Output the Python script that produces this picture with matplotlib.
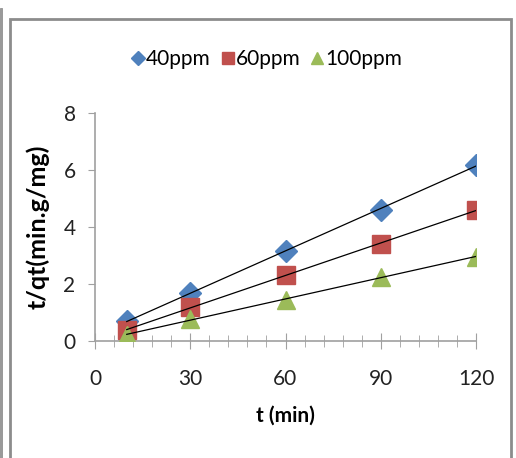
import numpy as np
import matplotlib.pyplot as plt
from matplotlib.patches import Rectangle
from matplotlib.ticker import MultipleLocator

plt.rcParams['font.family'] = ['Lato', 'DejaVu Sans']

# contact time (min) and t/qt for each initial concentration
t_min = [10, 30, 60, 90, 120]
tq_40 = [0.70, 1.68, 3.15, 4.60, 6.18]
tq_60 = [0.38, 1.20, 2.30, 3.40, 4.60]
tq_100 = [0.20, 0.78, 1.45, 2.25, 2.95]

series = [
    ('40ppm', tq_40, 'D', '#4F81BD', 11),
    ('60ppm', tq_60, 's', '#C0504D', 13),
    ('100ppm', tq_100, '^', '#9BBB59', 13),
]

fig = plt.figure(figsize=(5.16, 4.58), dpi=100)

# chart area borders
fig.patches.append(Rectangle((10 / 516, -0.05), 501 / 516, 1.05 - 19 / 458,
                             transform=fig.transFigure, fill=False,
                             edgecolor='#8c8c8c', linewidth=2))
fig.patches.append(Rectangle((1 / 516, -0.05), 0.0, 1.05 - 8 / 458,
                             transform=fig.transFigure, fill=False,
                             edgecolor='#9a9a9a', linewidth=2))

ax = fig.add_axes([95 / 516, 1 - 341 / 458, 381 / 516, 228 / 458])

x = np.array(t_min, dtype=float)
handles = []
for name, vals, mk, col, ms in series:
    h, = ax.plot(x, vals, linestyle='none', marker=mk, markersize=ms,
                 color=col, markeredgecolor=col, label=name, zorder=3)
    handles.append(h)
    slope, icpt = np.polyfit(x, vals, 1)
    ax.plot([x[0], x[-1]], [slope * x[0] + icpt, slope * x[-1] + icpt],
            color='black', linewidth=0.9, zorder=4)

ax.set_xlim(0, 120)
ax.set_ylim(0, 8)
ax.xaxis.set_major_locator(MultipleLocator(30))
ax.xaxis.set_minor_locator(MultipleLocator(6))
ax.yaxis.set_major_locator(MultipleLocator(2))

for side in ['top', 'right']:
    ax.spines[side].set_visible(False)
for side in ['left', 'bottom']:
    ax.spines[side].set_color('#a0a0a0')
    ax.spines[side].set_linewidth(1.2)

ax.tick_params(axis='x', which='major', direction='inout', length=12,
               color='#a0a0a0', labelsize=15, pad=14, labelcolor='#222222')
ax.tick_params(axis='x', which='minor', direction='inout', length=8,
               color='#a0a0a0')
ax.tick_params(axis='y', which='major', direction='out', length=5,
               color='#a0a0a0', labelsize=15, pad=9, labelcolor='#222222')

ax.set_xlabel('t (min)', fontsize=15, fontweight='bold', labelpad=12)
ax.set_ylabel('t/qt(min.g/mg)', fontsize=18, fontweight='bold', labelpad=10)

fig.legend(handles=handles, loc='center', bbox_to_anchor=(267 / 516, 1 - 59 / 458),
           ncol=3, frameon=False, fontsize=15, handlelength=0.6,
           handletextpad=0.1, columnspacing=0.5, markerscale=0.68)

fig.savefig('out.png', dpi=100)
